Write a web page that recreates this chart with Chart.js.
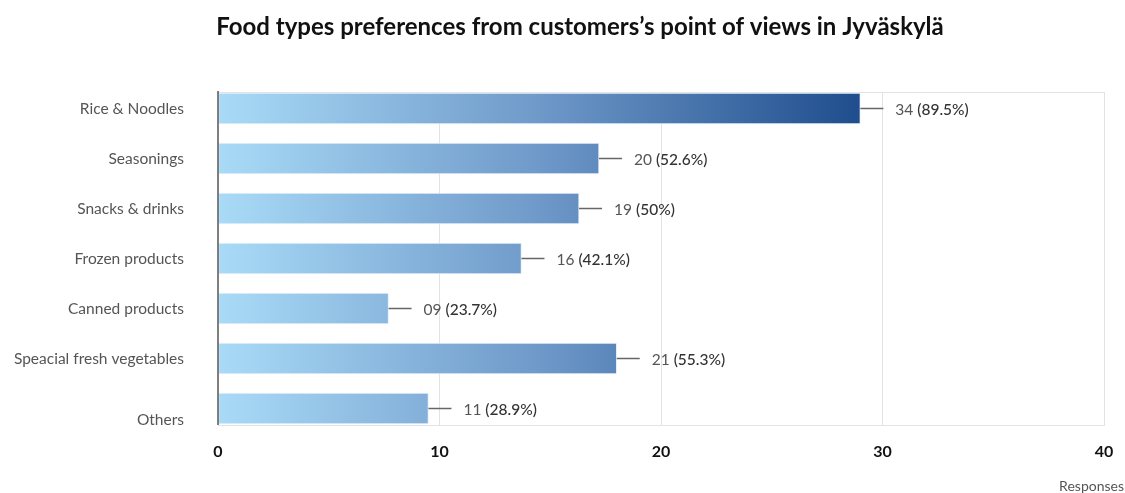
<!DOCTYPE html>
<html>
<head>
<meta charset="utf-8">
<script src="https://cdn.jsdelivr.net/npm/chart.js@4.4.1/dist/chart.umd.min.js"></script>
<style>
  html, body { margin: 0; padding: 0; background: #ffffff; }
  #wrap { width: 1125px; height: 493px; position: relative; }
</style>
</head>
<body>
<div id="wrap"><canvas id="c" width="1125" height="493"></canvas></div>
<script>
const chartTitle = "Food types preferences from customers\u2019s point of views in Jyv\u00e4skyl\u00e4";
const categories = ["Rice & Noodles", "Seasonings", "Snacks & drinks", "Frozen products", "Canned products", "Speacial fresh vegetables", "Others"];
const barValues = [29.0, 17.2, 16.3, 13.7, 7.7, 18.0, 9.5];
const countLabels = ["34", "20", "19", "16", "09", "21", "11"];
const percentLabels = ["(89.5%)", "(52.6%)", "(50%)", "(42.1%)", "(23.7%)", "(55.3%)", "(28.9%)"];
const xTicks = [0, 10, 20, 30, 40];
const xAxisTitle = "Responses";

const FONT = "Lato, 'Noto Sans', sans-serif";

function barGradient(ctx) {
  const chart = ctx.chart;
  const area = chart.chartArea;
  if (!area) return '#7fa6d3';
  const xs = chart.scales.x;
  const x0 = xs.getPixelForValue(0);
  const x1 = xs.getPixelForValue(Math.max(...barValues));
  const g = chart.ctx.createLinearGradient(x0, 0, x1, 0);
  g.addColorStop(0, '#a9dbf7');
  g.addColorStop(0.5, '#6f99c9');
  g.addColorStop(1, '#1f4d8d');
  return g;
}

const decor = {
  id: 'decor',
  afterDatasetsDraw(chart) {
    const ctx = chart.ctx;
    const area = chart.chartArea;
    const ys = chart.scales.y;
    ctx.save();
    ctx.strokeStyle = '#e3e3e3';
    ctx.lineWidth = 1;
    ctx.beginPath();
    ctx.moveTo(area.left, area.top + 0.5);
    ctx.lineTo(area.right, area.top + 0.5);
    ctx.stroke();
    ctx.strokeStyle = '#555555';
    ctx.lineWidth = 1.5;
    ctx.beginPath();
    ctx.moveTo(area.left, area.top - 1);
    ctx.lineTo(area.left, area.bottom);
    ctx.stroke();

    const meta = chart.getDatasetMeta(0);
    meta.data.forEach((bar, i) => {
      const xEnd = bar.x;
      const yc = bar.y;
      ctx.strokeStyle = '#666666';
      ctx.lineWidth = 1.5;
      ctx.beginPath();
      ctx.moveTo(xEnd, yc);
      ctx.lineTo(xEnd + 23, yc);
      ctx.stroke();
      ctx.textBaseline = 'middle';
      ctx.textAlign = 'left';
      ctx.font = "15.5px " + FONT;
      ctx.fillStyle = '#555555';
      const cnt = countLabels[i];
      ctx.fillText(cnt, xEnd + 35, yc + 1);
      const w = ctx.measureText(cnt + ' ').width;
      ctx.font = "500 15.5px " + FONT;
      ctx.fillStyle = '#333333';
      ctx.fillText(percentLabels[i], xEnd + 35 + w, yc + 1);
    });

    ctx.font = "15.5px " + FONT;
    ctx.fillStyle = '#555555';
    ctx.textAlign = 'right';
    ctx.textBaseline = 'middle';
    categories.forEach((c, i) => {
      const y = ys.getPixelForValue(i) + (i === categories.length - 1 ? 11 : 0);
      ctx.fillText(c, 184, y);
    });

    ctx.font = "bold 24px " + FONT;
    ctx.fillStyle = '#111111';
    ctx.textAlign = 'center';
    ctx.fillText(chartTitle, 580, 27);

    ctx.font = "14px " + FONT;
    ctx.fillStyle = '#555555';
    ctx.textAlign = 'right';
    ctx.fillText(xAxisTitle, 1124, 486);
    ctx.restore();
  }
};

new Chart(document.getElementById('c'), {
  type: 'bar',
  data: {
    datasets: [{
      data: barValues.map((v, i) => ({ x: v, y: i })),
      backgroundColor: barGradient,
      borderColor: 'rgba(220,235,250,0.7)',
      borderWidth: 1,
      borderSkipped: false,
      barThickness: 31
    }]
  },
  options: {
    indexAxis: 'y',
    responsive: false,
    animation: false,
    events: [],
    layout: { padding: { left: 218, right: 21, top: 92, bottom: 0 } },
    plugins: { legend: { display: false }, tooltip: { enabled: false }, title: { display: false } },
    scales: {
      x: {
        type: 'linear',
        min: 0, max: 40,
        afterBuildTicks(scale) { scale.ticks = xTicks.map(v => ({ value: v })); },
        afterFit(scale) { scale.height = 68; scale.paddingLeft = 0; scale.paddingRight = 0; },
        ticks: {
          padding: 17,
          color: '#111111',
          font: { family: FONT, size: 16, weight: 'bold' },
          maxRotation: 0
        },
        grid: {
          drawTicks: false,
          color: (c) => c.tick && c.tick.value === 0 ? 'rgba(0,0,0,0)' : '#e3e3e3',
          lineWidth: 1
        },
        border: { display: true, color: '#e3e3e3', width: 1 }
      },
      y: {
        type: 'linear',
        reverse: true,
        offset: false,
        min: -0.33, max: 6.33,
        display: false
      }
    }
  },
  plugins: [decor]
});
</script>
</body>
</html>
